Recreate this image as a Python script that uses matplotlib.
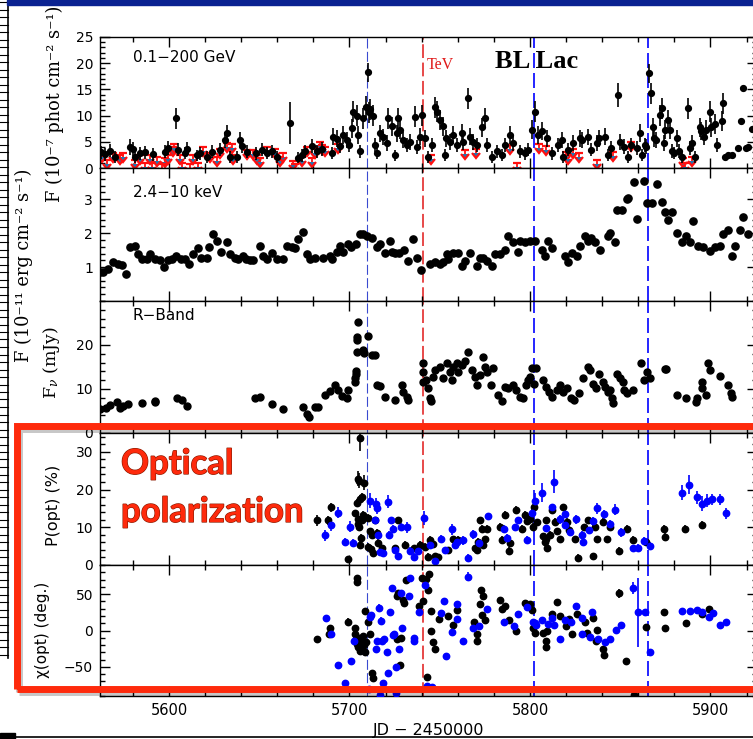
import matplotlib
matplotlib.use("Agg")
import matplotlib.pyplot as plt
import matplotlib.patches as patches
import matplotlib.lines as mlines
import matplotlib.patheffects as pe
from matplotlib.ticker import MultipleLocator

plt.rcParams['font.family'] = ['DejaVu Sans']
plt.rcParams['mathtext.fontset'] = 'dejavuserif'

# ---- Fermi-LAT 0.1-200 GeV (JD-2450000, flux, error) ----
gam_jd = [5562.3, 5564.5, 5567.3, 5570.0, 5578.4, 5580.0, 5581.0, 5584.0, 5586.7, 5591.0,
          5597.8, 5599.4, 5603.9, 5605.0, 5608.9, 5610.0, 5615.5, 5617.0, 5621.0, 5623.8,
          5628.3, 5631.0, 5632.1, 5633.8, 5637.7, 5639.3, 5640.4, 5643.2, 5648.0, 5651.5,
          5654.3, 5657.0, 5659.8, 5667.0, 5671.5, 5673.7, 5675.3, 5679.2, 5682.0, 5684.8,
          5690.3, 5690.9, 5693.1, 5694.7, 5696.4, 5698.6, 5699.7, 5701.4, 5701.9, 5704.2,
          5704.7, 5705.8, 5707.5, 5709.1, 5710.2, 5710.8, 5711.4, 5713.0, 5714.1, 5715.2,
          5716.9, 5718.6, 5720.8, 5721.3, 5723.5, 5725.2, 5726.3, 5726.9, 5728.0, 5729.6,
          5731.9, 5733.5, 5736.3, 5737.4, 5739.0, 5740.2, 5741.8, 5743.5, 5745.7, 5747.4,
          5748.5, 5750.1, 5751.8, 5752.9, 5753.5, 5755.7, 5757.3, 5759.6, 5762.3, 5762.9,
          5765.7, 5766.8, 5768.4, 5770.6, 5773.4, 5775.1, 5776.2, 5778.9, 5781.7, 5784.5,
          5786.1, 5788.9, 5790.6, 5794.5, 5797.2, 5798.9, 5801.1, 5802.8, 5804.4, 5806.6,
          5809.4, 5812.2, 5815.5, 5817.7, 5818.3, 5821.0, 5823.8, 5827.7, 5829.0, 5832.1,
          5834.0, 5837.1, 5838.5, 5841.5, 5843.0, 5845.0, 5848.8, 5850.0, 5852.0, 5854.3,
          5856.0, 5859.3, 5861.0, 5862.0, 5863.5, 5864.5, 5866.0, 5867.0, 5868.0, 5869.0,
          5870.0, 5872.0, 5873.0, 5874.0, 5874.8, 5876.5, 5877.5, 5878.5, 5880.0, 5881.4,
          5882.5, 5884.0, 5887.5, 5888.5, 5890.0, 5891.5, 5894.2, 5895.0, 5896.5, 5897.5,
          5899.7, 5900.5, 5902.5, 5903.5, 5906.4, 5907.0]
gam_flux = [3.0, 2.6, 3.3, 2.1, 4.0, 3.6, 2.1, 2.8, 3.0, 2.6,
            3.1, 3.8, 9.5, 3.5, 2.9, 3.7, 2.4, 2.8, 2.1, 3.1,
            3.5, 5.4, 6.6, 2.1, 2.1, 5.3, 4.2, 3.1, 2.8, 3.5,
            2.9, 3.2, 2.1, 8.6, 2.0, 2.4, 3.2, 4.2, 3.2, 3.6,
            2.9, 6.0, 5.6, 4.2, 6.3, 5.3, 4.4, 7.6, 10.7, 10.0,
            6.3, 3.2, 9.5, 11.7, 18.3, 10.6, 11.2, 10.0, 4.4, 2.9,
            6.6, 5.9, 4.8, 9.5, 8.0, 2.4, 6.6, 9.5, 7.3, 5.3,
            4.4, 5.0, 9.8, 4.0, 6.0, 10.1, 5.7, 2.1, 4.4, 11.6,
            10.7, 9.2, 8.0, 2.5, 5.7, 5.0, 6.3, 4.4, 6.7, 5.0,
            13.3, 6.0, 5.0, 4.4, 7.8, 9.5, 4.4, 2.1, 3.2, 2.5,
            4.4, 6.3, 4.8, 3.2, 2.8, 3.5, 7.3, 10.7, 6.3, 7.0,
            5.7, 2.8, 4.4, 5.3, 2.1, 3.5, 4.8, 5.7, 5.3, 5.9,
            3.5, 4.8, 5.7, 6.0, 2.5, 3.8, 13.9, 5.0, 4.1, 2.1,
            4.4, 3.8, 6.7, 2.5, 4.4, 4.1, 18.1, 14.3, 7.8, 5.7,
            5.3, 10.1, 11.4, 4.8, 7.3, 9.2, 7.3, 3.2, 2.9, 5.7,
            3.2, 2.1, 11.4, 3.8, 4.8, 2.1, 7.8, 7.0, 6.0, 7.3,
            10.7, 7.8, 8.4, 4.4, 9.0, 12.4]
gam_err = [1.2, 1.2, 1.2, 1.2, 1.5, 1.4, 1.2, 1.2, 1.2, 1.2,
           1.2, 1.4, 2.0, 1.3, 1.2, 1.3, 1.1, 1.2, 1.1, 1.2,
           1.3, 1.5, 1.6, 1.1, 1.1, 1.5, 1.4, 1.2, 1.2, 1.3,
           1.2, 1.2, 1.1, 4.0, 1.1, 1.2, 1.2, 1.4, 1.2, 1.3,
           1.2, 1.6, 1.6, 1.4, 1.7, 1.5, 1.4, 1.8, 2.0, 2.0,
           1.7, 1.2, 2.0, 2.0, 1.8, 2.0, 2.0, 2.0, 1.4, 1.2,
           1.7, 1.6, 1.5, 2.0, 1.8, 1.1, 1.7, 2.0, 1.8, 1.5,
           1.4, 1.5, 2.0, 1.4, 1.6, 2.0, 1.6, 1.1, 1.4, 2.0,
           2.0, 1.9, 1.8, 1.2, 1.6, 1.5, 1.7, 1.4, 1.7, 1.5,
           2.0, 1.6, 1.5, 1.4, 1.8, 1.9, 1.4, 1.1, 1.2, 1.1,
           1.4, 1.7, 1.5, 1.2, 1.2, 1.3, 1.8, 2.0, 1.7, 1.7,
           1.6, 1.2, 1.4, 1.5, 1.1, 1.3, 1.5, 1.6, 1.5, 1.6,
           1.3, 1.5, 1.6, 1.6, 1.2, 1.4, 2.3, 1.5, 1.4, 1.1,
           1.4, 1.3, 1.7, 1.2, 1.4, 1.4, 1.8, 2.0, 1.8, 1.6,
           1.5, 2.0, 2.0, 1.5, 1.8, 1.9, 1.8, 1.3, 1.2, 1.6,
           1.3, 1.1, 2.0, 1.4, 1.5, 1.1, 1.8, 1.7, 1.6, 1.8,
           2.0, 1.8, 1.9, 1.4, 1.9, 2.0]
# last points of the run, no error bars
gam_late_jd = [5908.0, 5910.0, 5912.0, 5915.0, 5916.9, 5918.0, 5919.5, 5921.0, 5923.0]
gam_late_flux = [2.1, 2.4, 2.4, 3.8, 9.0, 15.3, 3.8, 4.1, 7.5]

# upper limits
ul_jd = [5562.9, 5565.7, 5569.0, 5572.9, 5574.5, 5581.2, 5583.9, 5586.7, 5589.5, 5590.6,
         5593.4, 5596.1, 5597.8, 5599.4, 5602.2, 5602.8, 5606.1, 5607.2, 5611.6, 5613.3,
         5616.1, 5618.8, 5622.7, 5626.6, 5628.3, 5632.1, 5634.9, 5635.5, 5643.2, 5646.5,
         5648.8, 5650.4, 5654.3, 5658.7, 5661.5, 5663.2, 5668.7, 5669.8, 5673.7, 5676.5,
         5679.2, 5680.9, 5683.7, 5684.8, 5686.4, 5693.6, 5745.0, 5764.0, 5770.0, 5789.0,
         5793.0, 5805.0, 5809.0, 5820.0, 5821.0, 5824.0, 5827.0, 5837.0, 5846.0, 5856.0,
         5885.0, 5886.0, 5890.0]
ul_val = [2.9, 1.5, 2.9, 2.5, 2.9, 1.5, 2.5, 1.0, 2.5, 1.0,
          2.1, 0.8, 1.9, 2.5, 4.0, 4.6, 2.5, 1.0, 0.8, 2.5,
          1.0, 4.0, 2.9, 2.1, 3.6, 4.8, 4.6, 2.5, 3.4, 3.4,
          2.5, 1.9, 4.0, 3.6, 2.1, 2.9, 1.3, 0.8, 2.1, 4.0,
          1.9, 3.6, 5.0, 4.4, 4.0, 4.6, 2.5, 3.4, 3.6, 4.4,
          1.0, 4.6, 4.2, 3.1, 2.5, 3.6, 2.9, 1.5, 3.1, 5.0,
          1.9, 1.0, 2.1]

# ---- 2.4-10 keV (JD-2450000, flux) ----
xray = [(5561.8, 0.85), (5563.5, 0.85), (5566.0, 0.94), (5569.0, 1.15), (5571.5, 1.10),
        (5574.0, 1.06), (5576.0, 0.80), (5578.4, 1.58), (5581.0, 1.63), (5583.0, 1.38),
        (5585.0, 1.24), (5588.0, 1.24), (5589.5, 1.38), (5592.0, 1.24), (5595.0, 1.20),
        (5597.0, 1.00), (5599.4, 1.20), (5601.5, 1.24), (5604.0, 1.33), (5606.5, 1.24),
        (5608.9, 1.24), (5611.0, 1.10), (5613.3, 1.40), (5616.0, 1.55), (5617.5, 1.28),
        (5621.0, 1.28), (5622.0, 1.60), (5624.4, 1.97), (5626.6, 1.77), (5629.0, 1.45),
        (5632.0, 1.73), (5633.8, 1.38), (5636.5, 1.28), (5638.2, 1.24), (5641.0, 1.33),
        (5642.5, 1.24), (5644.7, 1.20), (5646.5, 1.20), (5650.4, 1.62), (5652.3, 1.33),
        (5654.3, 1.24), (5657.0, 1.42), (5659.8, 1.24), (5663.2, 1.24), (5665.3, 1.62),
        (5668.0, 1.58), (5669.8, 1.55), (5671.5, 1.82), (5674.3, 2.03), (5676.5, 1.38),
        (5678.1, 1.24), (5680.9, 1.28), (5685.3, 1.28), (5689.0, 1.33), (5690.3, 1.24),
        (5693.1, 1.45), (5694.7, 1.62), (5696.4, 1.45), (5699.2, 1.68), (5701.0, 1.58),
        (5703.6, 1.68), (5705.8, 1.97), (5707.5, 1.97), (5709.7, 1.92), (5712.5, 1.87),
        (5715.2, 1.58), (5717.0, 1.68), (5719.7, 1.42), (5722.4, 1.77), (5723.5, 1.45),
        (5725.2, 1.42), (5727.5, 1.42), (5730.0, 1.50), (5732.4, 1.18), (5735.0, 1.82),
        (5737.4, 1.28), (5739.6, 0.90), (5744.6, 1.09), (5747.4, 1.14), (5750.1, 1.09),
        (5751.8, 1.14), (5753.9, 1.38), (5754.5, 1.24), (5757.3, 1.42), (5760.1, 1.42),
        (5762.3, 1.03), (5764.0, 1.18), (5766.8, 1.42), (5770.6, 1.03), (5772.3, 1.28),
        (5774.0, 1.28), (5776.2, 1.18), (5778.9, 1.03), (5780.6, 1.38), (5783.4, 1.38),
        (5786.1, 1.50), (5787.8, 1.92), (5790.6, 1.73), (5793.4, 1.45), (5794.5, 1.77),
        (5797.2, 1.73), (5800.0, 1.77), (5802.8, 1.77), (5806.6, 1.50), (5808.3, 1.33),
        (5810.0, 1.77), (5812.2, 1.55), (5819.4, 1.33), (5821.0, 1.14), (5823.3, 1.42),
        (5826.0, 1.33), (5827.7, 1.62), (5830.5, 1.92), (5832.1, 1.77), (5834.0, 1.87),
        (5836.0, 1.73), (5838.8, 1.50), (5843.2, 1.92), (5844.5, 2.00), (5847.1, 1.73),
        (5848.2, 2.68), (5851.0, 2.68), (5853.7, 3.00), (5854.5, 3.05), (5857.6, 3.50),
        (5859.3, 2.41), (5863.2, 3.53), (5864.8, 2.88), (5867.5, 2.88), (5870.4, 3.44),
        (5873.1, 2.91), (5874.8, 2.62), (5876.5, 2.38), (5878.7, 2.62), (5881.4, 2.00),
        (5884.2, 1.75), (5886.4, 1.92), (5888.6, 1.75), (5890.3, 2.35), (5893.0, 1.62),
        (5895.8, 1.58), (5899.7, 1.48), (5902.5, 1.58), (5905.3, 1.62), (5907.0, 1.97),
        (5909.7, 2.09), (5912.0, 1.33), (5913.6, 1.62), (5916.3, 2.09), (5918.0, 2.47),
        (5920.8, 1.97)]

# ---- R band flux density (JD-2450000, mJy) ----
rband = [(5562.0, 5.4), (5565.0, 5.7), (5567.2, 6.4), (5571.0, 7.0), (5572.9, 5.7),
         (5574.5, 6.1), (5577.3, 6.6), (5585.0, 6.8), (5592.0, 7.0), (5592.3, 7.2),
         (5604.4, 7.9), (5607.2, 7.6), (5610.0, 6.1), (5647.6, 8.0), (5650.4, 8.2),
         (5657.0, 6.6), (5663.2, 5.5), (5674.3, 5.9), (5676.5, 4.3), (5677.6, 3.6),
         (5680.9, 5.9), (5682.5, 5.9), (5686.4, 8.6), (5689.2, 9.5), (5692.0, 10.9),
         (5693.6, 9.8), (5695.8, 8.4), (5698.6, 8.0), (5699.2, 9.8), (5703.0, 11.6),
         (5703.3, 12.5), (5703.6, 13.5), (5703.9, 14.2), (5704.0, 18.4), (5704.2, 21.8),
         (5704.4, 21.2), (5704.7, 25.2), (5707.5, 18.9), (5708.0, 18.1), (5710.2, 22.0),
         (5712.5, 17.7), (5714.1, 17.7), (5715.2, 10.9), (5716.9, 10.7), (5719.7, 8.2),
         (5725.2, 7.5), (5729.0, 10.9), (5729.6, 9.3), (5731.9, 8.2), (5732.4, 7.5),
         (5740.7, 15.9), (5740.8, 13.9), (5741.0, 11.6), (5742.5, 12.0), (5743.5, 10.2),
         (5744.6, 8.0), (5745.0, 7.3), (5746.3, 12.7), (5747.4, 14.3), (5750.1, 15.1),
         (5751.8, 12.5), (5754.0, 15.9), (5755.7, 13.9), (5756.8, 12.0), (5757.3, 15.1),
         (5759.6, 15.9), (5760.1, 13.9), (5762.3, 15.5), (5764.0, 16.3), (5765.7, 18.4),
         (5767.9, 14.3), (5769.5, 12.7), (5770.6, 10.9), (5772.3, 13.1), (5774.0, 17.3),
         (5775.1, 15.1), (5776.2, 13.9), (5778.4, 10.9), (5779.5, 14.7), (5782.3, 8.6),
         (5784.5, 7.3), (5786.1, 10.5), (5787.8, 10.2), (5790.6, 10.9), (5792.3, 9.8),
         (5794.5, 8.2), (5796.2, 7.9), (5797.8, 10.9), (5798.9, 12.0), (5800.0, 12.7),
         (5801.1, 14.7), (5802.2, 11.2), (5803.3, 14.7), (5807.2, 12.0), (5808.9, 10.5),
         (5810.5, 9.3), (5812.2, 8.2), (5815.0, 9.8), (5816.6, 10.9), (5818.3, 9.3),
         (5820.5, 10.2), (5822.7, 7.9), (5824.4, 7.5), (5827.1, 9.0), (5829.4, 12.5),
         (5832.1, 15.1), (5833.2, 14.3), (5835.0, 11.2), (5836.6, 10.2), (5838.3, 13.5),
         (5840.5, 11.6), (5841.6, 10.5), (5843.3, 9.3), (5844.4, 9.8), (5845.4, 7.9),
         (5846.0, 6.8), (5848.2, 13.5), (5850.0, 12.5), (5851.6, 11.6), (5852.2, 9.8),
         (5853.7, 9.0), (5857.1, 9.8), (5861.5, 15.9), (5863.2, 12.0), (5864.8, 13.9),
         (5866.5, 12.5), (5874.8, 14.5), (5875.5, 14.5), (5881.4, 8.6), (5886.4, 8.0),
         (5892.0, 7.0), (5892.5, 7.9), (5895.3, 11.6), (5895.5, 10.2), (5897.5, 8.6),
         (5898.6, 15.9), (5899.7, 14.3), (5905.3, 13.0), (5909.7, 10.9), (5911.4, 9.0),
         (5911.9, 8.2)]

# ---- optical polarization degree (JD-2450000, %, error), two instruments ----
pol_black = [(5682.0, 11.8, 1.5), (5688.1, 11.8, 1.2), (5689.7, 15.3, 1.2), (5699.2, 1.5, 1.0),
             (5703.0, 13.7, 1.0), (5704.2, 16.5, 1.0), (5704.7, 22.9, 2.0), (5704.7, 11.0, 1.0),
             (5704.7, 12.3, 1.0), (5705.3, 22.4, 2.0), (5705.3, 10.0, 1.0), (5705.8, 33.7, 3.5),
             (5705.8, 17.5, 1.0), (5705.8, 5.3, 1.0), (5706.4, 7.1, 1.0), (5706.9, 11.8, 1.0),
             (5707.2, 18.0, 1.2), (5707.5, 13.2, 1.0), (5708.0, 21.8, 2.0), (5710.2, 12.5, 1.0),
             (5710.2, 4.9, 1.0), (5711.4, 8.9, 1.0), (5711.9, 4.2, 1.0), (5712.5, 8.0, 1.0),
             (5713.0, 3.2, 1.0), (5714.1, 11.8, 1.0), (5715.2, 8.6, 1.0), (5715.8, 5.8, 1.0),
             (5718.0, 4.4, 1.0), (5725.2, 4.4, 1.0), (5726.9, 11.8, 1.0), (5730.7, 5.3, 1.0),
             (5735.7, 4.4, 1.0), (5739.1, 5.3, 1.0), (5741.8, 4.8, 1.0), (5743.5, 2.1, 1.0),
             (5744.6, 6.6, 1.0), (5746.3, 5.5, 1.0), (5747.4, 2.3, 1.0), (5749.0, 2.0, 1.0),
             (5754.6, 3.9, 1.0), (5757.3, 6.8, 1.0), (5760.1, 6.6, 1.0), (5769.5, 4.4, 1.0),
             (5770.6, 3.9, 1.0), (5771.2, 6.1, 1.0), (5772.3, 11.8, 1.0), (5773.4, 9.5, 1.0),
             (5774.0, 5.3, 1.0), (5775.1, 6.8, 1.0), (5776.2, 9.5, 1.0), (5783.4, 10.2, 1.0),
             (5784.5, 6.6, 1.0), (5786.1, 13.2, 1.0), (5788.4, 3.7, 1.0), (5788.9, 5.8, 1.0),
             (5792.2, 14.7, 1.0), (5795.6, 9.5, 1.0), (5797.2, 13.2, 1.0), (5798.3, 11.6, 1.0),
             (5800.0, 12.1, 1.0), (5801.7, 10.2, 1.0), (5802.0, 15.5, 1.2), (5803.9, 11.3, 1.0),
             (5807.2, 7.6, 1.0), (5808.3, 6.1, 1.0), (5808.9, 11.8, 1.0), (5809.1, 6.8, 1.0),
             (5809.4, 4.4, 1.0), (5811.1, 7.9, 1.0), (5812.2, 14.5, 1.0), (5813.9, 11.4, 1.0),
             (5815.0, 8.9, 1.0), (5816.6, 6.8, 1.0), (5818.3, 15.3, 1.0), (5820.5, 11.4, 1.0),
             (5821.6, 9.3, 1.0), (5824.9, 6.8, 1.0), (5826.6, 1.8, 1.0), (5829.9, 10.0, 1.0),
             (5832.1, 11.8, 1.0), (5834.9, 2.3, 1.0), (5836.0, 10.2, 1.0), (5837.1, 6.8, 1.0),
             (5840.4, 11.4, 1.0), (5842.7, 6.8, 1.0), (5844.3, 10.0, 1.0), (5849.3, 3.7, 1.0),
             (5853.7, 9.6, 1.0), (5857.1, 6.6, 1.0), (5864.3, 6.0, 1.0), (5874.2, 9.5, 1.0),
             (5874.8, 7.4, 1.0), (5885.9, 9.6, 1.0), (5895.3, 10.6, 1.0)]
pol_blue = [(5686.4, 7.9, 1.5), (5689.7, 10.5, 1.5), (5693.6, 13.9, 1.5), (5697.5, 6.1, 1.0),
            (5700.3, 10.2, 1.5), (5701.9, 5.8, 1.0), (5711.4, 17.1, 2.0), (5714.1, 11.8, 1.0),
            (5714.7, 16.3, 1.5), (5715.2, 15.0, 1.5), (5715.8, 7.9, 1.0), (5716.9, 3.4, 1.0),
            (5718.6, 3.2, 1.0), (5721.3, 16.8, 1.8), (5721.9, 7.9, 1.0), (5723.0, 11.8, 1.0),
            (5724.1, 9.5, 1.0), (5725.5, 3.9, 1.0), (5726.9, 2.3, 1.0), (5728.5, 10.2, 1.0),
            (5731.9, 10.0, 1.5), (5733.5, 3.7, 1.0), (5735.7, 2.1, 1.0), (5737.9, 3.7, 1.0),
            (5741.3, 12.4, 1.8), (5744.6, 5.3, 1.0), (5747.4, 1.0, 1.0), (5750.7, 6.9, 1.0),
            (5752.9, 3.9, 1.0), (5756.8, 9.5, 1.5), (5758.4, 5.3, 1.0), (5759.6, 6.1, 1.0),
            (5762.9, 6.6, 1.2), (5765.7, 1.8, 1.0), (5768.4, 8.2, 1.2), (5771.7, 5.8, 1.0),
            (5776.7, 12.9, 1.0), (5785.6, 9.5, 1.0), (5787.3, 7.1, 1.0), (5791.7, 10.0, 1.0),
            (5793.4, 11.8, 1.0), (5798.3, 6.6, 1.0), (5801.1, 13.7, 1.2), (5802.8, 17.1, 2.0),
            (5806.6, 19.2, 2.5), (5808.9, 9.7, 1.0), (5812.2, 15.3, 1.0), (5813.3, 22.1, 3.0),
            (5816.6, 12.1, 1.2), (5819.4, 13.6, 1.2), (5819.7, 10.5, 1.0), (5822.2, 8.8, 1.0),
            (5825.5, 12.1, 1.2), (5828.8, 7.9, 1.0), (5829.4, 6.1, 1.0), (5832.7, 9.2, 1.0),
            (5834.9, 11.6, 1.2), (5837.1, 15.0, 1.5), (5841.0, 13.5, 1.2), (5844.3, 10.8, 1.2),
            (5847.1, 14.7, 1.5), (5850.4, 8.7, 1.2), (5857.1, 4.4, 1.0), (5859.8, 4.6, 1.0),
            (5863.2, 6.4, 1.0), (5866.5, 5.1, 1.0), (5884.2, 19.2, 2.0), (5888.1, 21.3, 2.5),
            (5892.5, 17.9, 1.8), (5895.3, 16.3, 2.0), (5898.1, 17.1, 1.8), (5900.8, 17.4, 1.5),
            (5905.3, 17.4, 1.5), (5908.6, 13.7, 1.5)]

# ---- optical polarization angle (JD-2450000, deg, error) ----
evpa_black = [(5682.0, -12, 4), (5688.6, -5, 3), (5689.2, 3, 3), (5699.2, 12, 5), (5703.0, 3, 3),
              (5703.0, -5, 3), (5703.6, -12, 3), (5704.2, 72, 4), (5704.2, -18, 3), (5704.4, 66, 4),
              (5704.7, -22, 3), (5705.3, -10, 3), (5705.8, -28, 3), (5706.4, -15, 3), (5706.9, -25, 3),
              (5707.5, -8, 3), (5708.0, -20, 3), (5708.6, 27, 3), (5708.6, -30, 3), (5709.1, -16, 3),
              (5710.2, 12, 3), (5711.4, -5, 3), (5712.5, -58, 3), (5713.0, -65, 3), (5726.3, 48, 3),
              (5726.6, -12, 3), (5726.9, 51, 3), (5728.0, -47, 3), (5728.5, -10, 3), (5729.6, 42, 3),
              (5730.1, 38, 3), (5731.3, 69, 3), (5738.5, 34, 3), (5740.2, 72, 3), (5740.7, 40, 3),
              (5742.4, 71, 3), (5742.9, -64, 3), (5743.5, 55, 3), (5744.0, 78, 3), (5745.2, 27, 3),
              (5745.2, 0, 3), (5746.3, -16, 3), (5747.4, -25, 3), (5749.6, 16, 3), (5754.6, 20, 3),
              (5757.3, 7, 3), (5759.6, 28, 3), (5769.0, 12, 3), (5770.6, -5, 3), (5770.9, -14, 3),
              (5772.3, 37, 3), (5772.9, 56, 3), (5773.4, 21, 3), (5774.0, 48, 3), (5775.1, 15, 3),
              (5783.4, 42, 3), (5784.5, 29, 3), (5786.1, 34, 3), (5788.4, 15, 3), (5792.2, -1, 3),
              (5797.2, 38, 3), (5800.0, 36, 3), (5801.1, 28, 3), (5801.7, 4, 3), (5802.8, -3, 3),
              (5807.2, -3, 3), (5808.9, -15, 3), (5809.1, -23, 3), (5809.4, 0, 3), (5812.2, 22, 3),
              (5815.0, 39, 3), (5816.6, 20, 3), (5819.9, 6, 3), (5821.6, 16, 3), (5823.3, -5, 3),
              (5826.0, 23, 3), (5830.5, 12, 3), (5831.6, -3, 3), (5834.9, 17, 3), (5836.6, -14, 3),
              (5837.1, 1, 3), (5840.4, -26, 3), (5841.0, -33, 3), (5849.3, 51, 6), (5853.2, -42, 3),
              (5857.6, -88, 3), (5864.3, 5, 4), (5874.2, 25, 3), (5874.8, 3, 3), (5886.4, 10, 3),
              (5895.3, 22, 3), (5899.2, 29, 3)]
evpa_blue = [(5687.0, 17, 3), (5689.7, -5, 3), (5693.6, -48, 3), (5697.5, -72, 3), (5700.8, -42, 3),
             (5702.5, -14, 3), (5710.8, -80, 3), (5711.4, 19, 3), (5711.9, 21, 3), (5714.7, -25, 3),
             (5715.2, -15, 3), (5716.3, 31, 5), (5716.9, -88, 3), (5717.5, 13, 6), (5718.0, -14, 3),
             (5718.6, -72, 3), (5719.0, -12, 3), (5720.8, -30, 3), (5721.3, -58, 3), (5722.4, 25, 3),
             (5723.5, 58, 3), (5724.1, -6, 3), (5724.7, -5, 3), (5725.8, -50, 3), (5726.0, -86, 3),
             (5727.4, -26, 3), (5728.5, 51, 3), (5729.0, 3, 3), (5733.0, 48, 3), (5733.5, 72, 3),
             (5735.7, -10, 3), (5736.0, -15, 3), (5738.5, 25, 3), (5741.8, 63, 3), (5743.0, -76, 3),
             (5745.5, -77, 3), (5750.7, 24, 3), (5752.4, 41, 3), (5753.5, -35, 3), (5756.8, -2, 3),
             (5759.6, 16, 3), (5759.8, 37, 3), (5762.9, -15, 3), (5765.7, 74, 6), (5768.4, 4, 3),
             (5771.7, 6, 3), (5776.2, 30, 3), (5785.6, 11, 3), (5791.1, 6, 3), (5793.4, 23, 3),
             (5798.3, 32, 3), (5801.7, 12, 3), (5802.8, 10, 3), (5803.3, 7, 3), (5806.6, 14, 3),
             (5809.9, 9, 3), (5812.2, 17, 3), (5813.3, 8, 3), (5816.6, -12, 3), (5819.4, 15, 3),
             (5822.7, 11, 3), (5825.5, 34, 3), (5828.8, 17, 3), (5829.0, -5, 4), (5833.2, -9, 3),
             (5834.3, 26, 3), (5837.7, -11, 3), (5841.6, -16, 3), (5844.3, -12, 3), (5847.6, 1, 3),
             (5850.4, 8, 3), (5857.1, 58, 8), (5859.8, 25, 47), (5863.7, 25, 3), (5866.5, -30, 3),
             (5884.2, 27, 3), (5888.6, 27, 3), (5892.5, 28, 3), (5895.3, 25, 3), (5899.2, 19, 3),
             (5901.4, 24, 3), (5905.3, 8, 3), (5908.6, 12, 3)]

# flare epochs marked across all panels
flare_jd = [5709.7, 5740.7, 5802.2, 5865.4]
flare_col = ['#3a4ad0', '#e01818', '#0000ff', '#0000ff']
flare_lw = [0.8, 1.1, 1.2, 1.2]

W, H = 753, 739


def fx(px):
    return px / W


def fy(py):
    return 1 - py / H


def cols(rows):
    return [list(c) for c in zip(*rows)]


fig = plt.figure(figsize=(W / 100, H / 100), dpi=100)

edges = [37, 168, 301, 433, 565, 696]
left, right = 100, 757
axes = []
for i in range(5):
    ax = fig.add_axes([fx(left), fy(edges[i + 1]), (right - left) / W,
                       (edges[i + 1] - edges[i]) / H])
    ax.set_xlim(5561.8, 5925.8)
    ax.xaxis.set_major_locator(MultipleLocator(100))
    ax.xaxis.set_minor_locator(MultipleLocator(20))
    ax.tick_params(which='both', direction='in', top=True, right=True, width=1,
                   labelsize=10, pad=5)
    ax.tick_params(which='major', length=7)
    ax.tick_params(which='minor', length=3.5)
    if i < 4:
        ax.tick_params(labelbottom=False)
    for s in ax.spines.values():
        s.set_linewidth(1.0)
    for jd, c, lw in zip(flare_jd, flare_col, flare_lw):
        ax.axvline(jd, color=c, lw=lw, ls=(0, (9, 3)), zorder=1)
    axes.append(ax)
ax1, ax2, ax3, ax4, ax5 = axes

# gamma rays
ax1.set_ylim(0, 25)
ax1.set_yticks([0, 5, 10, 15, 20, 25])
ax1.yaxis.set_minor_locator(MultipleLocator(1))
ax1.errorbar(ul_jd, ul_val, yerr=0.8, uplims=True, fmt='none', ecolor='#ff1010',
             elinewidth=1.3, capsize=2.6, capthick=1.6, zorder=2)
ax1.errorbar(gam_jd, gam_flux, yerr=gam_err, fmt='o', color='k', ms=4.2,
             elinewidth=1.2, capsize=0, zorder=3)
ax1.plot(gam_late_jd, gam_late_flux, 'o', color='k', ms=4.2, zorder=3)

# X-rays
xr_jd, xr_val = cols(xray)
ax2.set_ylim(0, 3.92)
ax2.set_yticks([1, 2, 3])
ax2.yaxis.set_minor_locator(MultipleLocator(0.2))
ax2.plot(xr_jd, xr_val, 'o', color='k', ms=5.2, zorder=3)

# optical R band
rb_jd, rb_val = cols(rband)
ax3.set_ylim(0, 30)
ax3.set_yticks([0, 10, 20])
ax3.yaxis.set_minor_locator(MultipleLocator(2))
ax3.plot(rb_jd, rb_val, 'o', color='k', ms=5, zorder=3)

# polarization degree
ax4.set_ylim(0, 35)
ax4.set_yticks([0, 10, 20, 30])
ax4.yaxis.set_minor_locator(MultipleLocator(2))
for rows, c in [(pol_black, 'k'), (pol_blue, '#0000ff')]:
    jd, val, err = cols(rows)
    ax4.errorbar(jd, val, yerr=err, fmt='o', color=c, ms=4.6, elinewidth=1.2,
                 capsize=0, zorder=3)

# polarization angle
ax5.set_ylim(-90, 90)
ax5.set_yticks([-50, 0, 50])
ax5.yaxis.set_minor_locator(MultipleLocator(10))
for rows, c in [(evpa_black, 'k'), (evpa_blue, '#0000ff')]:
    jd, val, err = cols(rows)
    ax5.errorbar(jd, val, yerr=err, fmt='o', color=c, ms=4.6, elinewidth=1.2,
                 capsize=0, zorder=3)
for lab in ax5.get_xticklabels():
    lab.set_fontsize(10.5)

# axis titles
fig.text(fx(55), fy(202), "F (10⁻⁷ phot cm⁻² s⁻¹)", rotation=90, ha='center',
         va='bottom', family='DejaVu Serif', size=12.8)
fig.text(fx(24), fy(362), "F (10⁻¹¹ erg cm⁻² s⁻¹)", rotation=90, ha='center',
         va='bottom', family='DejaVu Serif', size=12.8)
fig.text(fx(52), fy(363), r"$\mathrm{F}_\nu$ (mJy)", rotation=90, ha='center', va='center',
         family='DejaVu Serif', size=12.5)
fig.text(fx(53), fy(505), "P(opt) (%)", rotation=90, ha='center', va='center', size=11.5)
fig.text(fx(43), fy(630), "χ(opt) (deg.)", rotation=90, ha='center', va='center', size=11)
fig.text(fx(429), fy(723), "JD − 2450000", ha='center', va='top', size=11.5)

# panel captions
fig.text(fx(133), fy(62), "0.1−200 GeV", size=11, va='baseline')
fig.text(fx(133), fy(197), "2.4−10 keV", size=11, va='baseline')
fig.text(fx(133), fy(320), "R−Band", size=11, va='baseline')
fig.text(fx(495), fy(68), "BL Lac", family='Liberation Serif', weight='bold', size=19,
         va='baseline')
fig.text(fx(427), fy(69), "TeV", color='#e01818', family='Liberation Serif', size=11.5,
         va='baseline')

# slide decorations: title bar, ruler, footer line
fig.add_artist(patches.Rectangle((fx(7), fy(5)), 1, 5 / H, color='#0a2291',
                                 transform=fig.transFigure, zorder=12))
fig.add_artist(mlines.Line2D([fx(7.5), fx(7.5)], [fy(0), fy(658)], color='k', lw=1.2,
                             transform=fig.transFigure))
for k in range(88):
    yk = 2 + 7.5 * k
    fig.add_artist(mlines.Line2D([0, fx(7.5)], [fy(yk), fy(yk)], color='k', lw=0.8,
                                 transform=fig.transFigure))
fig.add_artist(patches.Rectangle((0, 0), fx(15), 6 / H, color='k',
                                 transform=fig.transFigure))
fig.add_artist(mlines.Line2D([fx(15), 1], [fy(737), fy(737)], color='k', lw=1.2,
                             transform=fig.transFigure))

# highlight frame around the polarization panels
box_l, box_t, box_b = 16.5, 426, 689
fig.add_artist(patches.Rectangle((fx(box_l + 2), fy(box_b + 3)), 1.2, fy(box_t) - fy(box_b),
                                 fill=False, edgecolor=(0, 0, 0, 0.22), lw=5,
                                 transform=fig.transFigure, zorder=9))
fig.add_artist(patches.Rectangle((fx(box_l), fy(box_b)), 1.2, fy(box_t) - fy(box_b),
                                 fill=False, edgecolor='#fe2a0c', lw=5, joinstyle='miter',
                                 transform=fig.transFigure, zorder=10))
outline = [pe.withStroke(linewidth=0.9, foreground='#8a1a00')]
fig.text(fx(121), fy(474), "Optical", color='#fe2a0c', family='Lato', weight='bold',
         size=25, va='baseline', path_effects=outline, zorder=11)
fig.text(fx(121), fy(522), "polarization", color='#fe2a0c', family='Lato', weight='bold',
         size=25, va='baseline', path_effects=outline, zorder=11)

fig.savefig("out.png", dpi=100)
